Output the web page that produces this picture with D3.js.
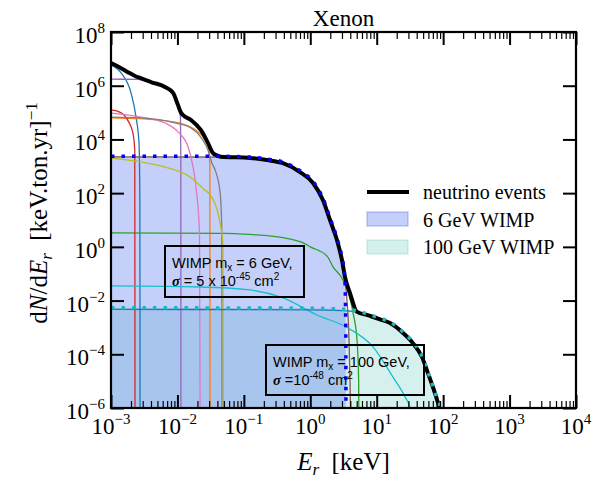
<!DOCTYPE html>
<html>
<head>
<meta charset="utf-8">
<script src="https://cdn.jsdelivr.net/npm/d3@7"></script>
<style>
  body { margin: 0; background: #fff; }
  svg text { font-family: "Liberation Serif", serif; }
</style>
</head>
<body>
<svg id="chart" width="613" height="480"></svg>
<script>
// recoil spectra: [E_r keV, dN/dE_r]
const totalNu = [[1e-3,7.0e6],[1.4e-3,4.6e6],[1.8e-3,3.2e6],[2.3e-3,2.3e6],[2.73e-3,1.94e6],[4.0e-3,1.37e6],[6.5e-3,9.0e5],[8.6e-3,5.4e5],
  [1.02e-2,1.9e5],[1.13e-2,1.0e5],[1.21e-2,8.1e4],[1.6e-2,5.3e4],[2.26e-2,2.2e4],[2.88e-2,7.4e3],[3.43e-2,3.1e3],[4.0e-2,2.5e3],[4.5e-2,2.25e3],
  [0.124,2.05e3],[0.223,1.7e3],[0.388,1.3e3],[0.70,610],[1.10,240],[1.55,56],[1.98,10],[2.52,1.8],[3.0,0.32],[3.33,0.075],[3.96,0.019],
  [5.0,3.9e-3],[7.5,2.8e-3],[11.2,2.0e-3],[15.9,1.45e-3],[24.9,6.2e-4],[35,2.6e-4],[48,7.9e-5],[59,2.0e-5],[70,6.1e-6],[81,2.0e-6],[87,1e-6],[90,1e-7]];

const nuBlue = [[1e-3,5.9e6],[1.42e-3,3.0e6],[2.0e-3,5.4e5],[2.38e-3,6.8e4],[2.64e-3,7.4e3],[2.72e-3,56],[2.74e-3,1e-7]];
const nuOrange = [[1e-3,6.3e4],[5.1e-3,5.3e4],[1.3e-2,3.5e4],[2.04e-2,1.9e4],[2.6e-2,9.6e3],[2.99e-2,4e3],[3.08e-2,1e3],[3.1e-2,1e-7]];
const nuGreen = [[1e-3,3.3],[0.05,3.2],[0.124,2.9],[0.388,2.2],[0.78,1.4],[1.0,1.0],[1.79,0.45],[2.2,0.18],[3.1,0.058],[4.4,3.5e-3],[5.05,3.4e-4],[5.35,1e-5],[5.4,1e-7]];
const nuRed = [[1e-3,1.25e5],[1.4e-3,1.0e5],[1.8e-3,5e4],[2.14e-3,1.7e4],[2.28e-3,4e3],[2.3e-3,1e-7]];
const nuPurple = [[1e-3,1.75e6],[2.5e-3,1.72e6],[4.0e-3,1.3e6],[6.5e-3,8.3e5],[8.6e-3,4.8e5],[1.02e-2,1.5e5],[1.11e-2,7e4],[1.125e-2,2e3],[1.13e-2,1e-7]];
const nuBrown = [[1e-3,2.25e3],[4.5e-2,2.2e3],[0.124,2.0e3],[0.223,1.65e3],[0.388,1.25e3],[0.70,590],[1.10,230],[1.55,54],[1.98,9.6],[2.52,1.7],
  [3.0,0.3],[3.33,0.058],[3.56,0.0105],[3.83,3.4e-4],[3.96,1.1e-5],[4.1,1e-7]];
const nuPink = [[1e-3,9.5e4],[2.83e-3,6.8e4],[6.5e-3,4.1e4],[1.02e-2,1.9e4],[1.45e-2,5.2e3],[1.71e-2,1.0e3],[1.95e-2,100],[2.15e-2,3],[2.2e-2,1e-7]];
const nuGrey = [[1e-3,6.8e4],[2.83e-3,6.3e4],[9.2e-3,4.1e4],[1.6e-2,2.7e4],[2.26e-2,1.2e4],[2.88e-2,4e3],[3.31e-2,1.3e3],[3.7e-2,720],[4.4e-2,100],[4.65e-2,5],[4.7e-2,1e-7]];
const nuOlive = [[1e-3,2.0e3],[2.83e-3,1.45e3],[6.5e-3,940],[1.55e-2,400],[2.43e-2,150],[3.43e-2,60],[4.37e-2,8],[4.85e-2,1.2],[4.93e-2,1e-7]];
const nuCyan = [[1e-3,0.035],[0.022,0.032],[0.124,0.0248],[0.388,0.0125],[1.26,2.9e-3],[3.7,9.5e-4],[8.8,1.9e-4],[17.6,1.4e-5],[26.7,2.6e-6],[31.7,1e-6],[33,1e-7]];
const nuBlue2 = [[1e-3,4.7e-3],[1,4.5e-3],[3,4.2e-3],[5,3.7e-3],[7.5,2.65e-3],[11.2,1.9e-3],[15.9,1.38e-3],[24.9,5.9e-4],[35,2.45e-4],[48,7.5e-5],[59,1.9e-5],[70,5.8e-6],[81,1.9e-6],[86,1e-7]];

const wimp6 = [[1e-3,2.35e3],[4.5e-2,2.35e3],[0.124,2.2e3],[0.223,1.85e3],[0.388,1.45e3],[0.70,680],[1.10,275],[1.55,64],[1.98,12],[2.52,2.1],[3.0,0.4],[3.3,0.08],[3.42,1e-3],[3.45,1e-7]];
const wimp100 = [[1e-3,5.4e-3],[1,5.2e-3],[3,4.8e-3],[5,4.2e-3],[7.5,3.1e-3],[11.2,2.2e-3],[15.9,1.6e-3],[24.9,6.8e-4],[35,2.85e-4],[48,8.7e-5],[59,2.2e-5],[70,6.7e-6],[81,2.2e-6],[88,1e-6],[90,1e-7]];

const nuSeries = [
  { data: nuBlue, color: "#1f77b4" },
  { data: nuOrange, color: "#ff7f0e" },
  { data: nuGreen, color: "#2ca02c" },
  { data: nuRed, color: "#d62728" },
  { data: nuPurple, color: "#9467bd" },
  { data: nuBrown, color: "#8c564b" },
  { data: nuPink, color: "#e377c2" },
  { data: nuGrey, color: "#7f7f7f" },
  { data: nuOlive, color: "#bcbd22" },
  { data: nuCyan, color: "#17becf" },
  { data: nuBlue2, color: "#1f77b4" }
];

const xDecades = [-3, -2, -1, 0, 1, 2, 3, 4];
const yDecades = [-6, -4, -2, 0, 2, 4, 6, 8];
const legendLabels = ["neutrino events", "6 GeV WIMP", "100 GeV WIMP"];

const pLeft = 111, pRight = 576, pTop = 32, pBottom = 408;
const svg = d3.select("#chart");

const x = d3.scaleLog().domain([1e-3, 1e4]).range([pLeft, pRight]);
const y = d3.scaleLog().domain([1e-6, 1e8]).range([pBottom, pTop]);

svg.append("defs").append("clipPath").attr("id", "plot")
  .append("rect").attr("x", pLeft).attr("y", pTop).attr("width", pRight - pLeft).attr("height", pBottom - pTop);

const plot = svg.append("g").attr("clip-path", "url(#plot)");

const line = d3.line().x(d => x(d[0])).y(d => y(d[1])).curve(d3.curveMonotoneX);
const area = d3.area().x(d => x(d[0])).y0(pBottom + 5).y1(d => y(d[1])).curve(d3.curveMonotoneX);

// WIMP fills
plot.append("path").datum(wimp100).attr("d", area).attr("fill", "rgba(30,170,160,0.18)");
plot.append("path").datum(wimp6).attr("d", area).attr("fill", "rgba(60,100,235,0.3)");

// neutrino components
nuSeries.forEach(s => {
  plot.append("path").datum(s.data).attr("d", line)
    .attr("fill", "none").attr("stroke", s.color).attr("stroke-width", 1.3);
});

// total
plot.append("path").datum(totalNu).attr("d", line)
  .attr("fill", "none").attr("stroke", "#000").attr("stroke-width", 4).attr("stroke-linejoin", "round");

// WIMP dotted outlines
plot.append("path").datum(wimp6).attr("d", line)
  .attr("fill", "none").attr("stroke", "#0000ff").attr("stroke-width", 3.5).attr("stroke-dasharray", "3.5 7");
plot.append("path").datum(wimp100).attr("d", line)
  .attr("fill", "none").attr("stroke", "#1bb8c0").attr("stroke-width", 3.5).attr("stroke-dasharray", "3.5 7");

// ticks
const xMajor = xDecades.map(k => Math.pow(10, k));
const xMinor = [];
xDecades.slice(0, -1).forEach(k => { for (let m = 2; m < 10; m++) xMinor.push(m * Math.pow(10, k)); });
const yMajor = yDecades.map(k => Math.pow(10, k));

function tickAxis(axis, tr) {
  const g = svg.append("g").attr("transform", tr).call(axis);
  g.select(".domain").remove();
  g.selectAll("line").attr("stroke", "#000");
  g.selectAll("text").remove();
  return g;
}
tickAxis(d3.axisBottom(x).tickValues(xMajor).tickSize(-13), `translate(0,${pBottom})`).selectAll("line").attr("stroke-width", 2);
tickAxis(d3.axisBottom(x).tickValues(xMinor).tickSize(-7), `translate(0,${pBottom})`).selectAll("line").attr("stroke-width", 1.2);
tickAxis(d3.axisTop(x).tickValues(xMajor).tickSize(-13), `translate(0,${pTop})`).selectAll("line").attr("stroke-width", 2);
tickAxis(d3.axisTop(x).tickValues(xMinor).tickSize(-7), `translate(0,${pTop})`).selectAll("line").attr("stroke-width", 1.2);
tickAxis(d3.axisLeft(y).tickValues(yMajor).tickSize(-13), `translate(${pLeft},0)`).selectAll("line").attr("stroke-width", 2);
tickAxis(d3.axisRight(y).tickValues(yMajor).tickSize(-13), `translate(${pRight},0)`).selectAll("line").attr("stroke-width", 2);

// frame
svg.append("rect").attr("x", pLeft).attr("y", pTop).attr("width", pRight - pLeft).attr("height", pBottom - pTop)
  .attr("fill", "none").attr("stroke", "#000").attr("stroke-width", 2.2);

// tick labels with superscripts
function powLabel(g, k) {
  g.append("tspan").text("10");
  g.append("tspan").attr("dy", -10).attr("font-size", 15).text(String(k).replace("-", "\u2212"));
}
xDecades.forEach(k => {
  const t = svg.append("text").attr("x", x(Math.pow(10, k))).attr("y", 434)
    .attr("text-anchor", "middle").attr("font-size", 23);
  powLabel(t, k);
});
yDecades.forEach(k => {
  const t = svg.append("text").attr("x", 105).attr("y", y(Math.pow(10, k)) + 11)
    .attr("text-anchor", "end").attr("font-size", 23);
  powLabel(t, k);
});

// title and axis labels
svg.append("text").attr("x", (pLeft + pRight) / 2).attr("y", 26).attr("text-anchor", "middle")
  .attr("font-size", 23).text("Xenon");

const xl = svg.append("text").attr("x", (pLeft + pRight) / 2).attr("y", 470).attr("text-anchor", "middle").attr("font-size", 25);
xl.append("tspan").attr("font-style", "italic").text("E");
xl.append("tspan").attr("font-style", "italic").attr("font-size", 17).attr("dy", 5).text("r");
xl.append("tspan").attr("dy", -5).text("\u2002[keV]");

const yl = svg.append("text").attr("transform", "translate(47,213) rotate(-90)").attr("text-anchor", "middle").attr("font-size", 25);
yl.append("tspan").text("d");
yl.append("tspan").attr("font-style", "italic").text("N");
yl.append("tspan").text("/d");
yl.append("tspan").attr("font-style", "italic").text("E");
yl.append("tspan").attr("font-style", "italic").attr("font-size", 17).attr("dy", 5).text("r");
yl.append("tspan").attr("dy", -5).text("\u2002[keV.ton.yr]");
yl.append("tspan").attr("dy", -10).attr("font-size", 17).text("\u22121");

// legend
const lg = svg.append("g");
lg.append("line").attr("x1", 367).attr("x2", 409).attr("y1", 192).attr("y2", 192).attr("stroke", "#000").attr("stroke-width", 4);
lg.append("rect").attr("x", 367).attr("y", 212).attr("width", 41).attr("height", 14)
  .attr("fill", "rgba(60,100,235,0.3)").attr("stroke", "rgba(60,100,235,0.3)").attr("stroke-width", 1.5);
lg.append("rect").attr("x", 367).attr("y", 240).attr("width", 41).attr("height", 14)
  .attr("fill", "rgba(30,170,160,0.18)").attr("stroke", "rgba(30,170,160,0.18)").attr("stroke-width", 1.5);
legendLabels.forEach((s, i) => {
  lg.append("text").attr("x", 423).attr("y", 199 + i * 27.5).attr("font-size", 20).text(s);
});

// annotation boxes
function annot(bx, by, bw, bh, mass, sigmaParts) {
  const g = svg.append("g");
  g.append("rect").attr("x", bx).attr("y", by).attr("width", bw).attr("height", bh)
    .attr("fill", "none").attr("stroke", "#000").attr("stroke-width", 2);
  const t1 = g.append("text").attr("x", bx + 7).attr("y", by + 22).attr("font-size", 14.5).style("font-family", "'Liberation Sans', Arial, sans-serif");
  t1.append("tspan").text("WIMP m");
  t1.append("tspan").attr("font-size", 10).attr("dy", 3).text("x");
  t1.append("tspan").attr("dy", -3).text(" = " + mass + " GeV,");
  const t2 = g.append("text").attr("x", bx + 7).attr("y", by + 40).attr("font-size", 14.5).style("font-family", "'Liberation Sans', Arial, sans-serif");
  t2.append("tspan").attr("font-weight", "bold").attr("font-style", "italic").style("font-family", "'Liberation Serif', serif").text("\u03c3");
  sigmaParts.forEach(p => {
    const ts = t2.append("tspan").text(p.t);
    if (p.sup) ts.attr("font-size", 10).attr("dy", -6);
    if (p.down) ts.attr("dy", 6);
  });
}
annot(165, 246, 139, 51, "6", [{ t: " = 5 x 10" }, { t: "-45", sup: true }, { t: " cm", down: true }, { t: "2", sup: true }]);
annot(266, 345, 158, 50, "100", [{ t: " =10" }, { t: "-48", sup: true }, { t: " cm", down: true }, { t: "2", sup: true }]);
</script>
</body>
</html>
